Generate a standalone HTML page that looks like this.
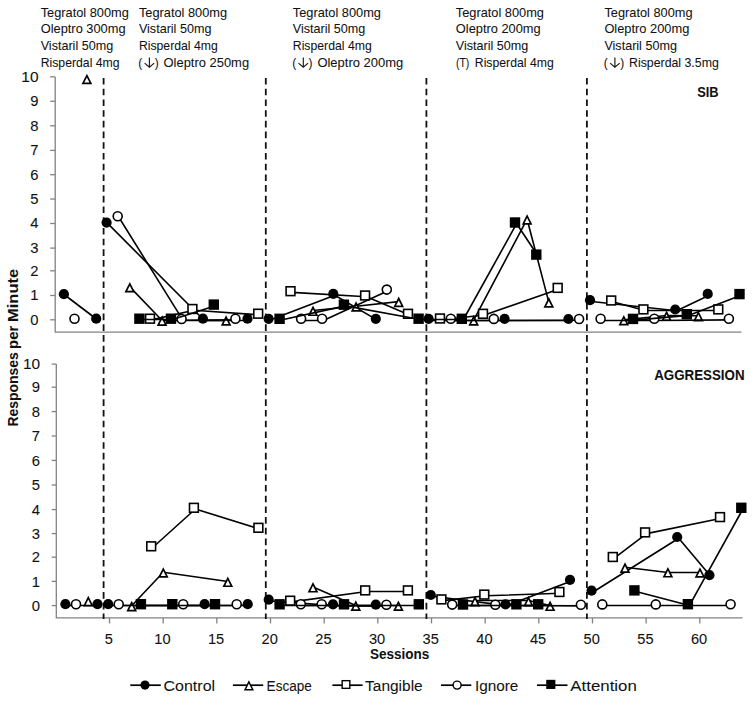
<!DOCTYPE html>
<html><head><meta charset="utf-8"><style>
html,body{margin:0;padding:0;background:#fff;}
svg{display:block;}
text{font-family:"Liberation Sans",sans-serif;fill:#111;stroke:#111;stroke-width:0.05px;}
text.t{stroke-width:0.08px;}
</style></head><body>
<svg width="754" height="701" viewBox="0 0 754 701">
<rect width="754" height="701" fill="#fff"/>
<path d="M55.2 76.9V332.1H741.5" fill="none" stroke="#828282" stroke-width="1.3"/>
<path d="M50.2 319.80H55.2" stroke="#828282" stroke-width="1.3"/>
<path d="M50.2 295.50H55.2" stroke="#828282" stroke-width="1.3"/>
<path d="M50.2 270.80H55.2" stroke="#828282" stroke-width="1.3"/>
<path d="M50.2 248.10H55.2" stroke="#828282" stroke-width="1.3"/>
<path d="M50.2 223.50H55.2" stroke="#828282" stroke-width="1.3"/>
<path d="M50.2 199.05H55.2" stroke="#828282" stroke-width="1.3"/>
<path d="M50.2 174.70H55.2" stroke="#828282" stroke-width="1.3"/>
<path d="M50.2 150.40H55.2" stroke="#828282" stroke-width="1.3"/>
<path d="M50.2 125.80H55.2" stroke="#828282" stroke-width="1.3"/>
<path d="M50.2 101.25H55.2" stroke="#828282" stroke-width="1.3"/>
<path d="M50.2 76.80H55.2" stroke="#828282" stroke-width="1.3"/>
<path d="M56.3 364.0V617.9H742.6" fill="none" stroke="#828282" stroke-width="1.3"/>
<path d="M51.7 605.60H56.3" stroke="#828282" stroke-width="1.3"/>
<path d="M51.7 581.40H56.3" stroke="#828282" stroke-width="1.3"/>
<path d="M51.7 557.20H56.3" stroke="#828282" stroke-width="1.3"/>
<path d="M51.7 533.60H56.3" stroke="#828282" stroke-width="1.3"/>
<path d="M51.7 509.60H56.3" stroke="#828282" stroke-width="1.3"/>
<path d="M51.7 485.00H56.3" stroke="#828282" stroke-width="1.3"/>
<path d="M51.7 460.40H56.3" stroke="#828282" stroke-width="1.3"/>
<path d="M51.7 436.00H56.3" stroke="#828282" stroke-width="1.3"/>
<path d="M51.7 411.60H56.3" stroke="#828282" stroke-width="1.3"/>
<path d="M51.7 387.20H56.3" stroke="#828282" stroke-width="1.3"/>
<path d="M51.7 364.10H56.3" stroke="#828282" stroke-width="1.3"/>
<path d="M109.51 617.9V623.4" stroke="#828282" stroke-width="1.3"/>
<path d="M163.17 617.9V623.4" stroke="#828282" stroke-width="1.3"/>
<path d="M216.84 617.9V623.4" stroke="#828282" stroke-width="1.3"/>
<path d="M270.50 617.9V623.4" stroke="#828282" stroke-width="1.3"/>
<path d="M324.16 617.9V623.4" stroke="#828282" stroke-width="1.3"/>
<path d="M377.83 617.9V623.4" stroke="#828282" stroke-width="1.3"/>
<path d="M431.50 617.9V623.4" stroke="#828282" stroke-width="1.3"/>
<path d="M485.16 617.9V623.4" stroke="#828282" stroke-width="1.3"/>
<path d="M538.83 617.9V623.4" stroke="#828282" stroke-width="1.3"/>
<path d="M592.49 617.9V623.4" stroke="#828282" stroke-width="1.3"/>
<path d="M646.16 617.9V623.4" stroke="#828282" stroke-width="1.3"/>
<path d="M699.82 617.9V623.4" stroke="#828282" stroke-width="1.3"/>
<line x1="103.6" y1="78.0" x2="103.6" y2="619" stroke="#111" stroke-width="1.8" stroke-dasharray="6.6 4.11"/>
<line x1="265.8" y1="78.0" x2="265.8" y2="619" stroke="#111" stroke-width="1.8" stroke-dasharray="6.6 4.11"/>
<line x1="426.4" y1="78.0" x2="426.4" y2="619" stroke="#111" stroke-width="1.8" stroke-dasharray="6.6 4.11"/>
<line x1="586.9" y1="78.0" x2="586.9" y2="619" stroke="#111" stroke-width="1.8" stroke-dasharray="6.6 4.11"/>
<polyline points="65.4,295.5 97.7,320.0" fill="none" stroke="#000" stroke-width="1.6" stroke-linejoin="round"/>
<polyline points="108.1,223.9 204.4,320.5 249.0,320.5" fill="none" stroke="#000" stroke-width="1.6" stroke-linejoin="round"/>
<polyline points="270.1,320.1 334.8,295.2 377.3,320.1" fill="none" stroke="#000" stroke-width="1.6" stroke-linejoin="round"/>
<polyline points="430.1,320.5 506.1,320.5 569.9,320.5" fill="none" stroke="#000" stroke-width="1.6" stroke-linejoin="round"/>
<polyline points="591.5,301.5 676.7,310.8 709.2,295.2" fill="none" stroke="#000" stroke-width="1.6" stroke-linejoin="round"/>
<circle cx="63.9" cy="294.2" r="5.10" fill="#000"/>
<circle cx="96.2" cy="318.7" r="5.10" fill="#000"/>
<circle cx="106.6" cy="222.6" r="5.10" fill="#000"/>
<circle cx="202.9" cy="318.7" r="5.10" fill="#000"/>
<circle cx="247.5" cy="318.7" r="5.10" fill="#000"/>
<circle cx="268.6" cy="318.8" r="5.10" fill="#000"/>
<circle cx="333.3" cy="293.9" r="5.10" fill="#000"/>
<circle cx="375.8" cy="318.8" r="5.10" fill="#000"/>
<circle cx="428.6" cy="318.8" r="5.10" fill="#000"/>
<circle cx="504.6" cy="318.8" r="5.10" fill="#000"/>
<circle cx="568.4" cy="319.0" r="5.10" fill="#000"/>
<circle cx="590.0" cy="300.2" r="5.10" fill="#000"/>
<circle cx="675.2" cy="309.5" r="5.10" fill="#000"/>
<circle cx="707.7" cy="293.9" r="5.10" fill="#000"/>
<polyline points="129.8,286.9 162.1,320.5 226.1,320.5" fill="none" stroke="#000" stroke-width="1.6" stroke-linejoin="round"/>
<polyline points="313.0,310.5 356.1,306.2 398.7,301.6" fill="none" stroke="#000" stroke-width="1.6" stroke-linejoin="round"/>
<polyline points="473.7,320.1 527.1,219.2 548.8,302.1" fill="none" stroke="#000" stroke-width="1.6" stroke-linejoin="round"/>
<polyline points="623.8,319.9 666.6,315.5 698.4,315.8" fill="none" stroke="#000" stroke-width="1.6" stroke-linejoin="round"/>
<path d="M86.90 73.70L92.20 84.30L81.60 84.30Z" fill="#000"/><path d="M86.90 77.49L89.46 82.60L84.34 82.60Z" fill="#fff"/>
<path d="M129.80 281.90L135.10 292.50L124.50 292.50Z" fill="#000"/><path d="M129.80 285.69L132.36 290.81L127.24 290.81Z" fill="#fff"/>
<path d="M162.10 315.30L167.40 325.90L156.80 325.90Z" fill="#000"/><path d="M162.10 319.09L164.66 324.21L159.54 324.21Z" fill="#fff"/>
<path d="M226.10 315.20L231.40 325.80L220.80 325.80Z" fill="#000"/><path d="M226.10 318.99L228.66 324.11L223.54 324.11Z" fill="#fff"/>
<path d="M313.00 305.50L318.30 316.10L307.70 316.10Z" fill="#000"/><path d="M313.00 309.29L315.56 314.41L310.44 314.41Z" fill="#fff"/>
<path d="M356.10 301.20L361.40 311.80L350.80 311.80Z" fill="#000"/><path d="M356.10 304.99L358.66 310.11L353.54 310.11Z" fill="#fff"/>
<path d="M398.70 296.60L404.00 307.20L393.40 307.20Z" fill="#000"/><path d="M398.70 300.39L401.26 305.50L396.14 305.50Z" fill="#fff"/>
<path d="M473.70 315.10L479.00 325.70L468.40 325.70Z" fill="#000"/><path d="M473.70 318.89L476.26 324.00L471.14 324.00Z" fill="#fff"/>
<path d="M527.10 214.20L532.40 224.80L521.80 224.80Z" fill="#000"/><path d="M527.10 217.99L529.66 223.11L524.54 223.11Z" fill="#fff"/>
<path d="M548.80 297.10L554.10 307.70L543.50 307.70Z" fill="#000"/><path d="M548.80 300.89L551.36 306.00L546.24 306.00Z" fill="#fff"/>
<path d="M623.80 314.90L629.10 325.50L618.50 325.50Z" fill="#000"/><path d="M623.80 318.69L626.36 323.81L621.24 323.81Z" fill="#fff"/>
<path d="M666.60 310.50L671.90 321.10L661.30 321.10Z" fill="#000"/><path d="M666.60 314.29L669.16 319.41L664.04 319.41Z" fill="#fff"/>
<path d="M698.40 310.80L703.70 321.40L693.10 321.40Z" fill="#000"/><path d="M698.40 314.59L700.96 319.71L695.84 319.71Z" fill="#fff"/>
<polyline points="151.5,319.9 193.9,310.2 259.7,314.9" fill="none" stroke="#000" stroke-width="1.6" stroke-linejoin="round"/>
<polyline points="292.0,292.4 366.6,296.7 409.5,315.0" fill="none" stroke="#000" stroke-width="1.6" stroke-linejoin="round"/>
<polyline points="441.5,319.7 484.5,315.0 559.2,289.1" fill="none" stroke="#000" stroke-width="1.6" stroke-linejoin="round"/>
<polyline points="612.7,301.7 644.9,310.5 719.8,310.5" fill="none" stroke="#000" stroke-width="1.6" stroke-linejoin="round"/>
<rect x="145.60" y="314.30" width="8.79" height="8.79" fill="#fff" stroke="#000" stroke-width="1.60"/>
<rect x="188.00" y="304.60" width="8.79" height="8.79" fill="#fff" stroke="#000" stroke-width="1.60"/>
<rect x="253.80" y="309.30" width="8.79" height="8.79" fill="#fff" stroke="#000" stroke-width="1.60"/>
<rect x="286.10" y="286.80" width="8.79" height="8.79" fill="#fff" stroke="#000" stroke-width="1.60"/>
<rect x="360.70" y="291.10" width="8.79" height="8.79" fill="#fff" stroke="#000" stroke-width="1.60"/>
<rect x="403.60" y="309.40" width="8.79" height="8.79" fill="#fff" stroke="#000" stroke-width="1.60"/>
<rect x="435.60" y="314.10" width="8.79" height="8.79" fill="#fff" stroke="#000" stroke-width="1.60"/>
<rect x="478.60" y="309.40" width="8.79" height="8.79" fill="#fff" stroke="#000" stroke-width="1.60"/>
<rect x="553.30" y="283.50" width="8.79" height="8.79" fill="#fff" stroke="#000" stroke-width="1.60"/>
<rect x="606.80" y="296.10" width="8.79" height="8.79" fill="#fff" stroke="#000" stroke-width="1.60"/>
<rect x="639.00" y="305.00" width="8.79" height="8.79" fill="#fff" stroke="#000" stroke-width="1.60"/>
<rect x="713.90" y="305.00" width="8.79" height="8.79" fill="#fff" stroke="#000" stroke-width="1.60"/>
<polyline points="119.0,217.5 182.9,320.2 236.7,319.9" fill="none" stroke="#000" stroke-width="1.6" stroke-linejoin="round"/>
<polyline points="302.4,320.5 323.4,320.5 388.1,290.8" fill="none" stroke="#000" stroke-width="1.6" stroke-linejoin="round"/>
<polyline points="452.1,320.5 495.1,320.5 580.4,320.2" fill="none" stroke="#000" stroke-width="1.6" stroke-linejoin="round"/>
<polyline points="601.9,320.5 655.6,320.5 730.2,319.9" fill="none" stroke="#000" stroke-width="1.6" stroke-linejoin="round"/>
<circle cx="74.5" cy="318.7" r="4.50" fill="#fff" stroke="#000" stroke-width="1.60"/>
<circle cx="117.7" cy="216.3" r="4.50" fill="#fff" stroke="#000" stroke-width="1.60"/>
<circle cx="181.6" cy="319.0" r="4.50" fill="#fff" stroke="#000" stroke-width="1.60"/>
<circle cx="235.4" cy="318.7" r="4.50" fill="#fff" stroke="#000" stroke-width="1.60"/>
<circle cx="301.1" cy="318.8" r="4.50" fill="#fff" stroke="#000" stroke-width="1.60"/>
<circle cx="322.1" cy="318.8" r="4.50" fill="#fff" stroke="#000" stroke-width="1.60"/>
<circle cx="386.8" cy="289.6" r="4.50" fill="#fff" stroke="#000" stroke-width="1.60"/>
<circle cx="450.8" cy="318.8" r="4.50" fill="#fff" stroke="#000" stroke-width="1.60"/>
<circle cx="493.8" cy="318.9" r="4.50" fill="#fff" stroke="#000" stroke-width="1.60"/>
<circle cx="579.1" cy="319.0" r="4.50" fill="#fff" stroke="#000" stroke-width="1.60"/>
<circle cx="600.6" cy="318.8" r="4.50" fill="#fff" stroke="#000" stroke-width="1.60"/>
<circle cx="654.3" cy="318.8" r="4.50" fill="#fff" stroke="#000" stroke-width="1.60"/>
<circle cx="728.9" cy="318.7" r="4.50" fill="#fff" stroke="#000" stroke-width="1.60"/>
<polyline points="141.0,319.5 172.6,319.5 215.4,305.8" fill="none" stroke="#000" stroke-width="1.6" stroke-linejoin="round"/>
<polyline points="281.2,320.0 345.5,305.9 420.2,319.5 463.4,319.5 516.6,223.7 537.9,255.8" fill="none" stroke="#000" stroke-width="1.6" stroke-linejoin="round"/>
<polyline points="634.6,320.1 688.4,315.4 741.1,295.3" fill="none" stroke="#000" stroke-width="1.6" stroke-linejoin="round"/>
<rect x="134.20" y="313.50" width="10.40" height="10.40" fill="#000"/>
<rect x="165.80" y="313.50" width="10.40" height="10.40" fill="#000"/>
<rect x="208.60" y="299.40" width="10.40" height="10.40" fill="#000"/>
<rect x="274.40" y="313.60" width="10.40" height="10.40" fill="#000"/>
<rect x="338.70" y="299.50" width="10.40" height="10.40" fill="#000"/>
<rect x="413.40" y="313.50" width="10.40" height="10.40" fill="#000"/>
<rect x="456.60" y="313.60" width="10.40" height="10.40" fill="#000"/>
<rect x="509.80" y="217.30" width="10.40" height="10.40" fill="#000"/>
<rect x="531.10" y="249.40" width="10.40" height="10.40" fill="#000"/>
<rect x="627.80" y="313.70" width="10.40" height="10.40" fill="#000"/>
<rect x="681.60" y="309.00" width="10.40" height="10.40" fill="#000"/>
<rect x="734.30" y="288.90" width="10.40" height="10.40" fill="#000"/>
<polyline points="66.9,605.5 99.0,605.5" fill="none" stroke="#000" stroke-width="1.6" stroke-linejoin="round"/>
<polyline points="109.7,605.5 206.1,605.5 249.2,605.5" fill="none" stroke="#000" stroke-width="1.6" stroke-linejoin="round"/>
<polyline points="270.2,601.0 334.5,605.6 377.3,606.0" fill="none" stroke="#000" stroke-width="1.6" stroke-linejoin="round"/>
<polyline points="432.3,596.3 507.0,605.6 571.5,581.1" fill="none" stroke="#000" stroke-width="1.6" stroke-linejoin="round"/>
<polyline points="593.1,592.0 678.7,538.3 710.9,576.5" fill="none" stroke="#000" stroke-width="1.6" stroke-linejoin="round"/>
<circle cx="65.4" cy="604.2" r="5.10" fill="#000"/>
<circle cx="97.5" cy="604.2" r="5.10" fill="#000"/>
<circle cx="108.2" cy="604.2" r="5.10" fill="#000"/>
<circle cx="204.6" cy="604.2" r="5.10" fill="#000"/>
<circle cx="247.7" cy="604.2" r="5.10" fill="#000"/>
<circle cx="268.7" cy="599.7" r="5.10" fill="#000"/>
<circle cx="333.0" cy="604.3" r="5.10" fill="#000"/>
<circle cx="375.8" cy="604.7" r="5.10" fill="#000"/>
<circle cx="430.8" cy="595.0" r="5.10" fill="#000"/>
<circle cx="505.5" cy="604.3" r="5.10" fill="#000"/>
<circle cx="570.0" cy="579.8" r="5.10" fill="#000"/>
<circle cx="591.6" cy="590.7" r="5.10" fill="#000"/>
<circle cx="677.2" cy="537.0" r="5.10" fill="#000"/>
<circle cx="709.4" cy="575.2" r="5.10" fill="#000"/>
<polyline points="131.7,605.8 163.3,572.2 227.8,581.5" fill="none" stroke="#000" stroke-width="1.6" stroke-linejoin="round"/>
<polyline points="313.0,587.0 355.8,605.5 398.4,605.5" fill="none" stroke="#000" stroke-width="1.6" stroke-linejoin="round"/>
<polyline points="475.0,600.5 528.5,600.5 550.1,605.5" fill="none" stroke="#000" stroke-width="1.6" stroke-linejoin="round"/>
<polyline points="625.0,567.3 667.9,572.5 700.0,572.5" fill="none" stroke="#000" stroke-width="1.6" stroke-linejoin="round"/>
<path d="M88.30 595.80L93.60 606.40L83.00 606.40Z" fill="#000"/><path d="M88.30 599.59L90.86 604.70L85.74 604.70Z" fill="#fff"/>
<path d="M131.70 600.80L137.00 611.40L126.40 611.40Z" fill="#000"/><path d="M131.70 604.59L134.26 609.70L129.14 609.70Z" fill="#fff"/>
<path d="M163.30 567.20L168.60 577.80L158.00 577.80Z" fill="#000"/><path d="M163.30 570.99L165.86 576.10L160.74 576.10Z" fill="#fff"/>
<path d="M227.80 576.50L233.10 587.10L222.50 587.10Z" fill="#000"/><path d="M227.80 580.29L230.36 585.40L225.24 585.40Z" fill="#fff"/>
<path d="M313.00 582.00L318.30 592.60L307.70 592.60Z" fill="#000"/><path d="M313.00 585.79L315.56 590.90L310.44 590.90Z" fill="#fff"/>
<path d="M355.80 600.30L361.10 610.90L350.50 610.90Z" fill="#000"/><path d="M355.80 604.09L358.36 609.20L353.24 609.20Z" fill="#fff"/>
<path d="M398.40 600.40L403.70 611.00L393.10 611.00Z" fill="#000"/><path d="M398.40 604.19L400.96 609.30L395.84 609.30Z" fill="#fff"/>
<path d="M475.00 595.80L480.30 606.40L469.70 606.40Z" fill="#000"/><path d="M475.00 599.59L477.56 604.70L472.44 604.70Z" fill="#fff"/>
<path d="M528.50 595.90L533.80 606.50L523.20 606.50Z" fill="#000"/><path d="M528.50 599.69L531.06 604.80L525.94 604.80Z" fill="#fff"/>
<path d="M550.10 600.50L555.40 611.10L544.80 611.10Z" fill="#000"/><path d="M550.10 604.29L552.66 609.40L547.54 609.40Z" fill="#fff"/>
<path d="M625.00 562.30L630.30 572.90L619.70 572.90Z" fill="#000"/><path d="M625.00 566.09L627.56 571.20L622.44 571.20Z" fill="#fff"/>
<path d="M667.90 567.00L673.20 577.60L662.60 577.60Z" fill="#000"/><path d="M667.90 570.79L670.46 575.90L665.34 575.90Z" fill="#fff"/>
<path d="M700.00 567.20L705.30 577.80L694.70 577.80Z" fill="#000"/><path d="M700.00 570.99L702.56 576.10L697.44 576.10Z" fill="#fff"/>
<polyline points="152.7,547.5 195.4,509.0 259.9,529.0" fill="none" stroke="#000" stroke-width="1.6" stroke-linejoin="round"/>
<polyline points="291.7,601.9 366.7,591.5 409.4,591.5" fill="none" stroke="#000" stroke-width="1.6" stroke-linejoin="round"/>
<polyline points="442.9,600.6 485.8,595.8 560.9,593.2" fill="none" stroke="#000" stroke-width="1.6" stroke-linejoin="round"/>
<polyline points="614.3,558.2 646.6,533.6 721.5,518.3" fill="none" stroke="#000" stroke-width="1.6" stroke-linejoin="round"/>
<rect x="146.80" y="541.90" width="8.79" height="8.79" fill="#fff" stroke="#000" stroke-width="1.60"/>
<rect x="189.50" y="503.40" width="8.79" height="8.79" fill="#fff" stroke="#000" stroke-width="1.60"/>
<rect x="254.00" y="523.40" width="8.79" height="8.79" fill="#fff" stroke="#000" stroke-width="1.60"/>
<rect x="285.80" y="596.30" width="8.79" height="8.79" fill="#fff" stroke="#000" stroke-width="1.60"/>
<rect x="360.80" y="586.00" width="8.79" height="8.79" fill="#fff" stroke="#000" stroke-width="1.60"/>
<rect x="403.50" y="586.00" width="8.79" height="8.79" fill="#fff" stroke="#000" stroke-width="1.60"/>
<rect x="437.00" y="595.00" width="8.79" height="8.79" fill="#fff" stroke="#000" stroke-width="1.60"/>
<rect x="479.90" y="590.20" width="8.79" height="8.79" fill="#fff" stroke="#000" stroke-width="1.60"/>
<rect x="555.00" y="587.60" width="8.79" height="8.79" fill="#fff" stroke="#000" stroke-width="1.60"/>
<rect x="608.40" y="552.60" width="8.79" height="8.79" fill="#fff" stroke="#000" stroke-width="1.60"/>
<rect x="640.70" y="528.00" width="8.79" height="8.79" fill="#fff" stroke="#000" stroke-width="1.60"/>
<rect x="715.60" y="512.70" width="8.79" height="8.79" fill="#fff" stroke="#000" stroke-width="1.60"/>
<polyline points="120.0,605.5 184.5,605.5 238.0,605.5" fill="none" stroke="#000" stroke-width="1.6" stroke-linejoin="round"/>
<polyline points="302.1,605.5 323.0,605.5 387.7,605.9" fill="none" stroke="#000" stroke-width="1.6" stroke-linejoin="round"/>
<polyline points="453.5,605.5 496.6,605.5 582.2,605.9" fill="none" stroke="#000" stroke-width="1.6" stroke-linejoin="round"/>
<polyline points="603.6,605.5 657.1,605.5 731.9,605.5" fill="none" stroke="#000" stroke-width="1.6" stroke-linejoin="round"/>
<circle cx="76.0" cy="604.2" r="4.50" fill="#fff" stroke="#000" stroke-width="1.60"/>
<circle cx="118.7" cy="604.2" r="4.50" fill="#fff" stroke="#000" stroke-width="1.60"/>
<circle cx="183.2" cy="604.2" r="4.50" fill="#fff" stroke="#000" stroke-width="1.60"/>
<circle cx="236.7" cy="604.2" r="4.50" fill="#fff" stroke="#000" stroke-width="1.60"/>
<circle cx="300.8" cy="604.3" r="4.50" fill="#fff" stroke="#000" stroke-width="1.60"/>
<circle cx="321.7" cy="604.3" r="4.50" fill="#fff" stroke="#000" stroke-width="1.60"/>
<circle cx="386.4" cy="604.7" r="4.50" fill="#fff" stroke="#000" stroke-width="1.60"/>
<circle cx="452.2" cy="604.6" r="4.50" fill="#fff" stroke="#000" stroke-width="1.60"/>
<circle cx="495.3" cy="604.7" r="4.50" fill="#fff" stroke="#000" stroke-width="1.60"/>
<circle cx="580.9" cy="604.7" r="4.50" fill="#fff" stroke="#000" stroke-width="1.60"/>
<circle cx="602.3" cy="604.4" r="4.50" fill="#fff" stroke="#000" stroke-width="1.60"/>
<circle cx="655.8" cy="604.4" r="4.50" fill="#fff" stroke="#000" stroke-width="1.60"/>
<circle cx="730.6" cy="604.2" r="4.50" fill="#fff" stroke="#000" stroke-width="1.60"/>
<polyline points="142.5,605.5 173.9,605.5 216.6,605.5" fill="none" stroke="#000" stroke-width="1.6" stroke-linejoin="round"/>
<polyline points="281.2,605.5 345.6,605.5 420.4,605.5" fill="none" stroke="#000" stroke-width="1.6" stroke-linejoin="round"/>
<polyline points="464.6,605.5 518.0,605.5 539.8,605.5" fill="none" stroke="#000" stroke-width="1.6" stroke-linejoin="round"/>
<polyline points="636.0,591.6 689.5,605.4 742.9,509.0" fill="none" stroke="#000" stroke-width="1.6" stroke-linejoin="round"/>
<rect x="135.70" y="599.00" width="10.40" height="10.40" fill="#000"/>
<rect x="167.10" y="599.00" width="10.40" height="10.40" fill="#000"/>
<rect x="209.80" y="599.00" width="10.40" height="10.40" fill="#000"/>
<rect x="274.40" y="599.10" width="10.40" height="10.40" fill="#000"/>
<rect x="338.80" y="599.10" width="10.40" height="10.40" fill="#000"/>
<rect x="413.60" y="599.10" width="10.40" height="10.40" fill="#000"/>
<rect x="457.80" y="599.30" width="10.40" height="10.40" fill="#000"/>
<rect x="511.20" y="599.10" width="10.40" height="10.40" fill="#000"/>
<rect x="533.00" y="599.10" width="10.40" height="10.40" fill="#000"/>
<rect x="629.20" y="585.20" width="10.40" height="10.40" fill="#000"/>
<rect x="682.70" y="599.00" width="10.40" height="10.40" fill="#000"/>
<rect x="736.10" y="502.60" width="10.40" height="10.40" fill="#000"/>
<text x="40.699999999999996" y="16.9" font-size="11.9" text-anchor="start" textLength="88.2" lengthAdjust="spacingAndGlyphs">Tegratol 800mg</text>
<text x="40.699999999999996" y="33.4" font-size="11.9" text-anchor="start" textLength="84.9" lengthAdjust="spacingAndGlyphs">Oleptro 300mg</text>
<text x="40.699999999999996" y="50.3" font-size="11.9" text-anchor="start" textLength="72.5" lengthAdjust="spacingAndGlyphs">Vistaril 50mg</text>
<text x="40.699999999999996" y="67.0" font-size="11.9" text-anchor="start" textLength="78.9" lengthAdjust="spacingAndGlyphs">Risperdal 4mg</text>
<text x="138.9" y="16.9" font-size="11.9" text-anchor="start" textLength="88.2" lengthAdjust="spacingAndGlyphs">Tegratol 800mg</text>
<text x="138.9" y="33.4" font-size="11.9" text-anchor="start" textLength="72.5" lengthAdjust="spacingAndGlyphs">Vistaril 50mg</text>
<text x="138.9" y="50.3" font-size="11.9" text-anchor="start" textLength="78.9" lengthAdjust="spacingAndGlyphs">Risperdal 4mg</text>
<text x="138.3" y="67.0" font-size="11.9" text-anchor="start">(</text>
<path d="M149.4 57.4V67.3M144.6 63.1L149.4 67.3L154.2 63.1" fill="none" stroke="#1a1a1a" stroke-width="1.15"/>
<text x="154.7" y="67.0" font-size="11.9" text-anchor="start">)</text>
<text x="163.5" y="67.0" font-size="11.9" text-anchor="start" textLength="85.6" lengthAdjust="spacingAndGlyphs">Oleptro 250mg</text>
<text x="292.79999999999995" y="16.9" font-size="11.9" text-anchor="start" textLength="88.2" lengthAdjust="spacingAndGlyphs">Tegratol 800mg</text>
<text x="292.79999999999995" y="33.4" font-size="11.9" text-anchor="start" textLength="72.5" lengthAdjust="spacingAndGlyphs">Vistaril 50mg</text>
<text x="292.79999999999995" y="50.3" font-size="11.9" text-anchor="start" textLength="78.9" lengthAdjust="spacingAndGlyphs">Risperdal 4mg</text>
<text x="292.2" y="67.0" font-size="11.9" text-anchor="start">(</text>
<path d="M303.3 57.4V67.3M298.5 63.1L303.3 67.3L308.1 63.1" fill="none" stroke="#1a1a1a" stroke-width="1.15"/>
<text x="308.6" y="67.0" font-size="11.9" text-anchor="start">)</text>
<text x="317.4" y="67.0" font-size="11.9" text-anchor="start" textLength="85.8" lengthAdjust="spacingAndGlyphs">Oleptro 200mg</text>
<text x="455.79999999999995" y="16.9" font-size="11.9" text-anchor="start" textLength="88.2" lengthAdjust="spacingAndGlyphs">Tegratol 800mg</text>
<text x="455.79999999999995" y="33.4" font-size="11.9" text-anchor="start" textLength="84.9" lengthAdjust="spacingAndGlyphs">Oleptro 200mg</text>
<text x="455.79999999999995" y="50.3" font-size="11.9" text-anchor="start" textLength="72.5" lengthAdjust="spacingAndGlyphs">Vistaril 50mg</text>
<text x="455.9" y="67.0" font-size="11.9" text-anchor="start" textLength="13.4" lengthAdjust="spacingAndGlyphs">(T)</text>
<text x="474.8" y="67.0" font-size="11.9" text-anchor="start" textLength="78.9" lengthAdjust="spacingAndGlyphs">Risperdal 4mg</text>
<text x="604.4" y="16.9" font-size="11.9" text-anchor="start" textLength="88.2" lengthAdjust="spacingAndGlyphs">Tegratol 800mg</text>
<text x="604.4" y="33.4" font-size="11.9" text-anchor="start" textLength="84.9" lengthAdjust="spacingAndGlyphs">Oleptro 200mg</text>
<text x="604.4" y="50.3" font-size="11.9" text-anchor="start" textLength="72.5" lengthAdjust="spacingAndGlyphs">Vistaril 50mg</text>
<text x="603.8" y="67.0" font-size="11.9" text-anchor="start">(</text>
<path d="M614.9 57.4V67.3M610.1 63.1L614.9 67.3L619.7 63.1" fill="none" stroke="#1a1a1a" stroke-width="1.15"/>
<text x="620.2" y="67.0" font-size="11.9" text-anchor="start">)</text>
<text x="629.0" y="67.0" font-size="11.9" text-anchor="start" textLength="89.8" lengthAdjust="spacingAndGlyphs">Risperdal 3.5mg</text>
<text x="38.5" y="324.6" font-size="14.8" text-anchor="end" class="t">0</text>
<text x="40.1" y="610.7" font-size="14.8" text-anchor="end" class="t">0</text>
<text x="38.5" y="300.3" font-size="14.8" text-anchor="end" class="t">1</text>
<text x="40.1" y="586.5" font-size="14.8" text-anchor="end" class="t">1</text>
<text x="38.5" y="275.6" font-size="14.8" text-anchor="end" class="t">2</text>
<text x="40.1" y="562.3" font-size="14.8" text-anchor="end" class="t">2</text>
<text x="38.5" y="252.9" font-size="14.8" text-anchor="end" class="t">3</text>
<text x="40.1" y="538.7" font-size="14.8" text-anchor="end" class="t">3</text>
<text x="38.5" y="228.3" font-size="14.8" text-anchor="end" class="t">4</text>
<text x="40.1" y="514.7" font-size="14.8" text-anchor="end" class="t">4</text>
<text x="38.5" y="203.9" font-size="14.8" text-anchor="end" class="t">5</text>
<text x="40.1" y="490.1" font-size="14.8" text-anchor="end" class="t">5</text>
<text x="38.5" y="179.5" font-size="14.8" text-anchor="end" class="t">6</text>
<text x="40.1" y="465.5" font-size="14.8" text-anchor="end" class="t">6</text>
<text x="38.5" y="155.2" font-size="14.8" text-anchor="end" class="t">7</text>
<text x="40.1" y="441.1" font-size="14.8" text-anchor="end" class="t">7</text>
<text x="38.5" y="130.6" font-size="14.8" text-anchor="end" class="t">8</text>
<text x="40.1" y="416.7" font-size="14.8" text-anchor="end" class="t">8</text>
<text x="38.5" y="106.0" font-size="14.8" text-anchor="end" class="t">9</text>
<text x="40.1" y="392.3" font-size="14.8" text-anchor="end" class="t">9</text>
<text x="38.5" y="81.6" font-size="14.8" text-anchor="end" textLength="17.2" lengthAdjust="spacingAndGlyphs" class="t">10</text>
<text x="40.1" y="369.2" font-size="14.8" text-anchor="end" textLength="17.2" lengthAdjust="spacingAndGlyphs" class="t">10</text>
<text x="108.7" y="644.0" font-size="14.6" text-anchor="middle" class="t">5</text>
<text x="162.4" y="644.0" font-size="14.6" text-anchor="middle" class="t">10</text>
<text x="216.0" y="644.0" font-size="14.6" text-anchor="middle" class="t">15</text>
<text x="269.7" y="644.0" font-size="14.6" text-anchor="middle" class="t">20</text>
<text x="323.4" y="644.0" font-size="14.6" text-anchor="middle" class="t">25</text>
<text x="377.0" y="644.0" font-size="14.6" text-anchor="middle" class="t">30</text>
<text x="430.7" y="644.0" font-size="14.6" text-anchor="middle" class="t">35</text>
<text x="484.4" y="644.0" font-size="14.6" text-anchor="middle" class="t">40</text>
<text x="538.0" y="644.0" font-size="14.6" text-anchor="middle" class="t">45</text>
<text x="591.7" y="644.0" font-size="14.6" text-anchor="middle" class="t">50</text>
<text x="645.4" y="644.0" font-size="14.6" text-anchor="middle" class="t">55</text>
<text x="699.0" y="644.0" font-size="14.6" text-anchor="middle" class="t">60</text>
<text x="697.2" y="97.2" font-size="14.6" font-weight="bold" text-anchor="start" textLength="21.4" lengthAdjust="spacingAndGlyphs">SIB</text>
<text x="654.2" y="379.9" font-size="14.6" font-weight="bold" text-anchor="start" textLength="90.4" lengthAdjust="spacingAndGlyphs">AGGRESSION</text>
<text x="370.0" y="659.1" font-size="14.0" font-weight="bold" text-anchor="start" textLength="59.2" lengthAdjust="spacingAndGlyphs">Sessions</text>
<g transform="translate(18.0 425.9) rotate(-90)">
<text x="-0.7" y="0" font-size="14.4" font-weight="bold" text-anchor="start" textLength="74.2" lengthAdjust="spacingAndGlyphs">Responses</text>
<text x="77.0" y="0" font-size="14.4" font-weight="bold" text-anchor="start" textLength="23.2" lengthAdjust="spacingAndGlyphs">per</text>
<text x="104.0" y="0" font-size="14.4" font-weight="bold" text-anchor="start" textLength="53.0" lengthAdjust="spacingAndGlyphs">Minute</text>
</g>
<line x1="130.3" y1="685.2" x2="160.8" y2="685.2" stroke="#000" stroke-width="1.7"/>
<circle cx="145.0" cy="685.1" r="4.59" fill="#000"/>
<text x="163.5" y="690.6" font-size="14.0" text-anchor="start" textLength="51.6" lengthAdjust="spacingAndGlyphs">Control</text>
<line x1="232.9" y1="685.2" x2="263.2" y2="685.2" stroke="#000" stroke-width="1.7"/>
<path d="M248.90 680.31L253.99 690.49L243.81 690.49Z" fill="#000"/><path d="M248.90 683.60L251.61 689.02L246.19 689.02Z" fill="#fff"/>
<text x="266.6" y="690.6" font-size="14.0" text-anchor="start" textLength="45.2" lengthAdjust="spacingAndGlyphs">Escape</text>
<line x1="332.4" y1="685.2" x2="362.6" y2="685.2" stroke="#000" stroke-width="1.7"/>
<rect x="342.17" y="680.67" width="7.66" height="7.66" fill="#fff" stroke="#000" stroke-width="1.39"/>
<text x="365.1" y="690.6" font-size="14.0" text-anchor="start" textLength="57.6" lengthAdjust="spacingAndGlyphs">Tangible</text>
<line x1="441.0" y1="685.2" x2="471.3" y2="685.2" stroke="#000" stroke-width="1.7"/>
<circle cx="457.1" cy="685.1" r="4.02" fill="#fff" stroke="#000" stroke-width="1.39"/>
<text x="474.9" y="690.6" font-size="14.0" text-anchor="start" textLength="43.5" lengthAdjust="spacingAndGlyphs">Ignore</text>
<line x1="537.0" y1="685.2" x2="567.5" y2="685.2" stroke="#000" stroke-width="1.7"/>
<rect x="546.22" y="679.82" width="9.15" height="9.15" fill="#000"/>
<text x="570.3" y="690.6" font-size="14.0" text-anchor="start" textLength="66.5" lengthAdjust="spacingAndGlyphs">Attention</text>
</svg>
</body></html>
